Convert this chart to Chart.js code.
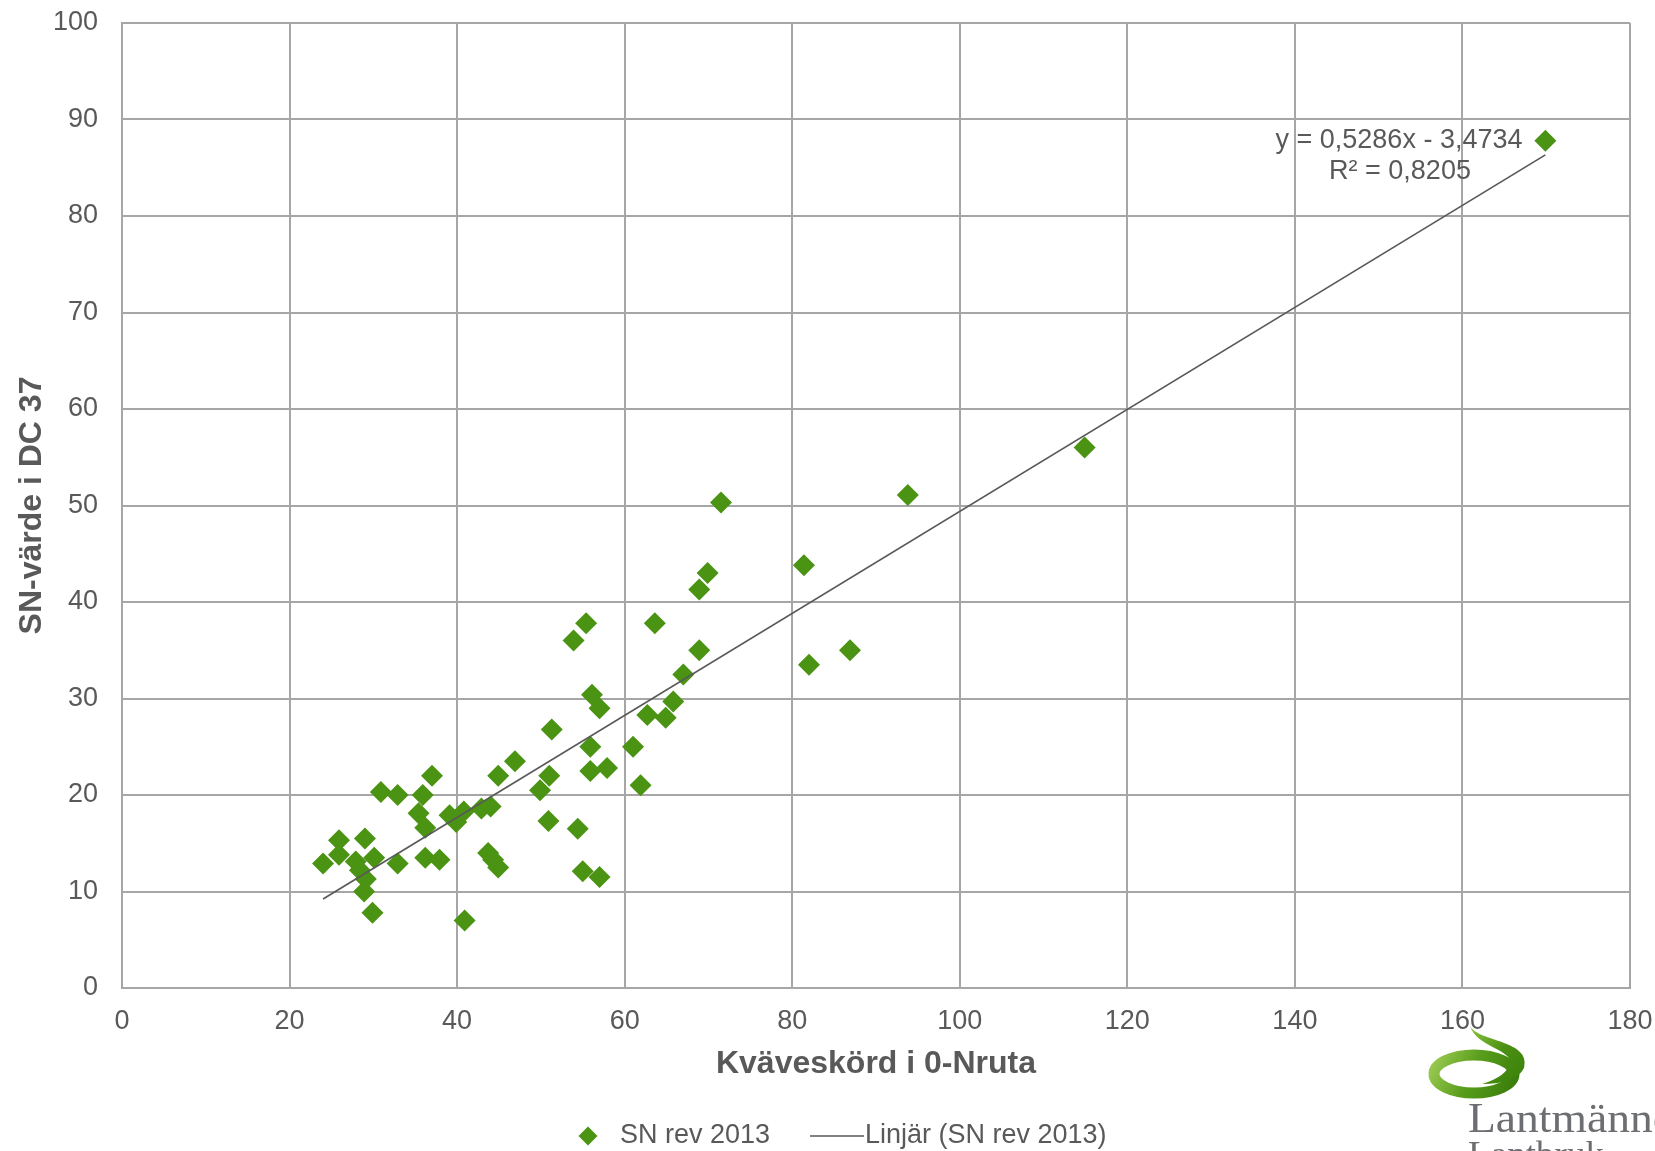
<!DOCTYPE html>
<html>
<head>
<meta charset="utf-8">
<title>SN-värde i DC 37</title>
<script src="https://cdn.jsdelivr.net/npm/chart.js@4/dist/chart.umd.min.js"></script>
<style>
  html, body { margin: 0; padding: 0; background: #ffffff; }
  #wrap { width: 1655px; height: 1151px; }
</style>
</head>
<body>
<div id="wrap"><canvas id="chart" width="1655" height="1151"></canvas></div>
<script>
// Kväveskörd i 0-Nruta (x) vs SN-värde i DC 37 (y)
const kvaveskord = [
  24.0, 25.9, 25.9, 27.9, 29.0, 30.1, 28.4, 29.1, 28.9, 29.9,
  30.9, 32.9, 32.9, 35.4, 35.9, 36.2, 36.2, 37.0, 37.9, 39.1,
  39.9, 40.8, 40.9, 42.9, 44.0, 43.7, 44.3, 44.9, 44.9, 46.9,
  49.9, 51.0, 50.9, 51.3, 53.9, 54.4, 55.0, 55.4, 55.9, 55.9,
  56.1, 57.0, 57.0, 57.9, 61.0, 61.9, 62.7, 63.6, 64.9, 65.8,
  67.0, 68.9, 68.9, 69.9, 71.5, 81.4, 82.0, 86.9, 93.8, 114.9,
  169.9,
]
const snVarde = [
  12.9, 15.3, 13.8, 13.1, 15.5, 13.5, 12.2, 11.3, 10.0, 7.8,
  20.3, 20.0, 12.9, 18.1, 20.0, 16.6, 13.5, 22.0, 13.3, 17.9,
  17.2, 18.3, 7.0, 18.6, 18.8, 14.0, 13.3, 12.5, 22.0, 23.5,
  20.5, 22.0, 17.3, 26.8, 36.0, 16.5, 12.1, 37.8, 25.0, 22.5,
  30.4, 29.0, 11.5, 22.8, 25.0, 21.0, 28.3, 37.8, 28.0, 29.7,
  32.5, 35.0, 41.3, 43.0, 50.3, 43.8, 33.5, 35.0, 51.1, 56.0,
  87.8,
]

// Linear trend as stated in the chart label
const trendSlope = 0.5286
const trendIntercept = -3.4734
const trendLabel = ["y = 0,5286x - 3,4734", "R² = 0,8205"]

const seriesName = "SN rev 2013"
const trendName = "Linjär (SN rev 2013)"
const xTitle = "Kväveskörd i 0-Nruta"
const yTitle = "SN-värde i DC 37"

const GREEN = "#4a9313"
const TEXT = "#595959"
const GRID = "#a6a6a6"
const FONT = "'Liberation Sans', Arial, sans-serif"
const SERIF = "'Liberation Serif', 'DejaVu Serif', serif"

const points = kvaveskord.map((x, i) => ({ x, y: snVarde[i] }))
const xMin = Math.min(...kvaveskord)
const xMax = Math.max(...kvaveskord)
const trendPoints = [xMin, xMax].map((x) => ({ x, y: trendSlope * x + trendIntercept }))

// Regression label, legend and logo drawn on top of the chart
const overlayPlugin = {
  id: "overlay",
  afterDraw: (chart) => {
    const ctx = chart.ctx
    ctx.save()

    // regression equation
    ctx.fillStyle = TEXT
    ctx.font = `27px ${FONT}`
    ctx.textAlign = "center"
    ctx.textBaseline = "middle"
    ctx.fillText(trendLabel[0], 1399, 141)
    ctx.fillText(trendLabel[1], 1400, 172)

    // legend
    const ly = 1136
    ctx.fillStyle = GREEN
    ctx.beginPath()
    ctx.moveTo(588, ly - 9.5)
    ctx.lineTo(597.5, ly)
    ctx.lineTo(588, ly + 9.5)
    ctx.lineTo(578.5, ly)
    ctx.closePath()
    ctx.fill()
    ctx.fillStyle = TEXT
    ctx.textAlign = "left"
    ctx.fillText(seriesName, 620, ly)
    ctx.strokeStyle = TEXT
    ctx.lineWidth = 1.7
    ctx.beginPath()
    ctx.moveTo(810, ly)
    ctx.lineTo(864, ly)
    ctx.stroke()
    ctx.fillText(trendName, 865, ly)

    // Lantmännen logo
    const ring = ctx.createLinearGradient(1428, 1050, 1525, 1098)
    ring.addColorStop(0, "#a9d35e")
    ring.addColorStop(0.45, "#5a9e1c")
    ring.addColorStop(1, "#2f7306")
    ctx.strokeStyle = ring
    ctx.lineWidth = 11
    ctx.beginPath()
    ctx.ellipse(1474, 1074, 40, 19, 0, 0, Math.PI * 2)
    ctx.stroke()

    const tail = ctx.createLinearGradient(1470, 1026, 1525, 1085)
    tail.addColorStop(0, "#8cc63f")
    tail.addColorStop(0.5, "#4a8f12")
    tail.addColorStop(1, "#3a800a")
    ctx.fillStyle = tail
    ctx.beginPath()
    ctx.moveTo(1470, 1026)
    ctx.bezierCurveTo(1478, 1042, 1532, 1040, 1524, 1068)
    ctx.quadraticCurveTo(1516, 1084, 1482, 1084)
    ctx.quadraticCurveTo(1508, 1076, 1510, 1062)
    ctx.bezierCurveTo(1511, 1050, 1476, 1046, 1470, 1026)
    ctx.closePath()
    ctx.fill()

    ctx.fillStyle = "#6d6e71"
    ctx.textAlign = "left"
    ctx.textBaseline = "alphabetic"
    ctx.translate(1468, 0)
    ctx.scale(1.06, 1)
    ctx.font = `43px ${SERIF}`
    ctx.fillText("Lantmännen", 0, 1132)
    ctx.font = `35px ${SERIF}`
    ctx.fillText("Lantbruk", 0, 1166)

    ctx.restore()
  },
}

new Chart(document.getElementById("chart"), {
  type: "scatter",
  data: {
    datasets: [
      {
        label: seriesName,
        data: points,
        pointStyle: "rectRot",
        pointRadius: 11,
        pointHoverRadius: 11,
        backgroundColor: GREEN,
        borderWidth: 0,
        order: 1,
      },
      {
        label: trendName,
        data: trendPoints,
        showLine: true,
        pointRadius: 0,
        borderColor: TEXT,
        borderWidth: 1.7,
        order: 0,
      },
    ],
  },
  options: {
    responsive: false,
    animation: false,
    devicePixelRatio: 1,
    layout: { padding: { left: 0, right: 25, top: 23, bottom: 0 } },
    plugins: {
      legend: { display: false },
      tooltip: { enabled: false },
    },
    scales: {
      x: {
        type: "linear",
        min: 0,
        max: 180,
        ticks: { stepSize: 20, color: TEXT, padding: 17, font: { family: FONT, size: 27 } },
        grid: { color: GRID, lineWidth: 2, drawTicks: false },
        border: { color: GRID, width: 2 },
        title: {
          display: true,
          text: xTitle,
          color: TEXT,
          font: { family: FONT, size: 32, weight: "bold" },
          padding: { top: 0, bottom: 68 },
        },
        afterFit: (scale) => {
          scale.height = 163
          scale.paddingLeft = 0
          scale.paddingRight = 0
        },
      },
      y: {
        type: "linear",
        min: 0,
        max: 100,
        ticks: { stepSize: 10, color: TEXT, padding: 24, font: { family: FONT, size: 27 } },
        grid: { color: GRID, lineWidth: 2, drawTicks: false },
        border: { color: GRID, width: 2 },
        title: {
          display: true,
          text: yTitle,
          color: TEXT,
          font: { family: FONT, size: 32, weight: "bold" },
          padding: { top: 13, bottom: 0 },
        },
        afterFit: (scale) => {
          scale.width = 122
          scale.paddingTop = 0
          scale.paddingBottom = 0
        },
      },
    },
  },
  plugins: [overlayPlugin],
})
</script>
</body>
</html>
